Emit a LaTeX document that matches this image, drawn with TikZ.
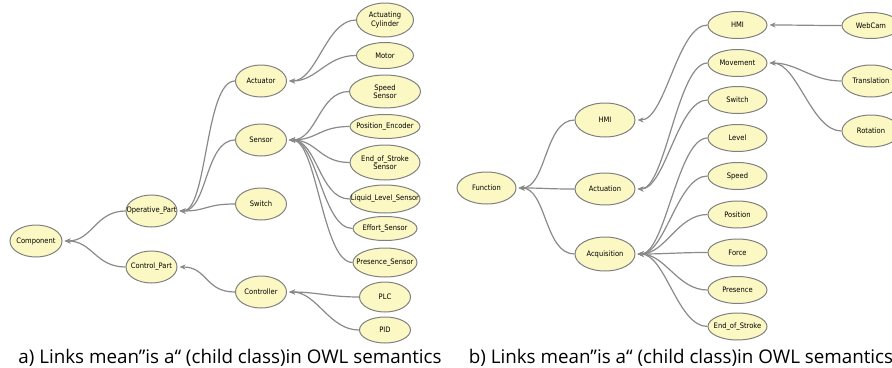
\documentclass[tikz,border=0pt]{standalone}
\usepackage{fontspec}
\usetikzlibrary{shapes.geometric,arrows.meta}
\newfontfamily\nodefont{DejaVu Sans Condensed}
\newfontfamily\capfont{Open Sans}
\definecolor{clsfill}{RGB}{251,248,196}
\definecolor{clsline}{RGB}{128,128,128}
\definecolor{linkgray}{RGB}{138,138,138}

\begin{document}
\begin{tikzpicture}[x=1pt,y=-1pt,
  cls/.style={ellipse, draw=clsline, fill=clsfill, line width=1pt,
    inner xsep=-10pt, inner ysep=0pt,
    minimum width=51pt, minimum height=32pt, align=center,
    font=\nodefont\fontsize{7.5}{8.5}\selectfont},
  link/.style={linkgray, line width=1.2pt, {Stealth[length=6pt,width=5pt]}-,
    shorten <=2pt, out=0, in=180, distance=30pt},
  caption/.style={anchor=base, font=\capfont\fontsize{18.8}{22}\selectfont}]
  \useasboundingbox (0,0) rectangle (892,367);

  % a) component tree
  \node[cls, minimum width=52pt] (comp) at (36,241) {Component};
  \node[cls] (oper) at (151.5,211) {Operative\_Part};
  \node[cls] (ctrl) at (151.5,267) {Control\_Part};
  \node[cls] (actr) at (261,81) {Actuator};
  \node[cls] (sens) at (261,140) {Sensor};
  \node[cls] (swl) at (261,204) {Switch};
  \node[cls] (cont) at (261,292) {Controller};
  \node[cls, minimum width=57pt, minimum height=34pt] (acyl) at (385,20) {Actuating\\Cylinder};
  \node[cls, minimum width=57pt, minimum height=26pt] (motor) at (385,55.5) {Motor};
  \node[cls, minimum width=71pt, minimum height=33pt] (spds) at (385,91.5) {Speed\\Sensor};
  \node[cls, minimum width=70pt, minimum height=24pt] (posenc) at (385,126.5) {Position\_Encoder};
  \node[cls, minimum width=70pt, minimum height=35pt] (eos) at (385,162.5) {End\_of\_Stroke\\Sensor};
  \node[cls, minimum width=70pt, minimum height=28pt] (liq) at (385,199) {Liquid\_Level\_Sensor};
  \node[cls, minimum width=64pt, minimum height=24pt] (eff) at (385,228.5) {Effort\_Sensor};
  \node[cls, minimum width=64pt, minimum height=29pt] (pres) at (385,262.5) {Presence\_Sensor};
  \node[cls, minimum height=30pt] (plc) at (385,297) {PLC};
  \node[cls, minimum height=26pt] (pid) at (385,330) {PID};

  \draw[link] (comp) to (oper);
  \draw[link] (comp) to (ctrl);
  \draw[link] (oper) to (actr);
  \draw[link] (oper) to (sens);
  \draw[link] (oper) to (swl);
  \draw[link] (ctrl) to (cont);
  \draw[link] (actr) to (acyl);
  \draw[link] (actr) to (motor);
  \draw[link] (sens) to (spds);
  \draw[link] (sens) to (posenc);
  \draw[link] (sens) to (eos);
  \draw[link] (sens) to (liq);
  \draw[link] (sens) to (eff);
  \draw[link] (sens) to (pres);
  \draw[link] (cont) to (plc);
  \draw[link] (cont) to (pid);

  % b) function tree
  \node[cls, minimum width=59pt] (func) at (486.5,188) {Function};
  \node[cls, minimum width=60pt, minimum height=34pt] (hmi) at (605,120) {HMI};
  \node[cls, minimum width=60pt] (actn) at (605,189) {Actuation};
  \node[cls, minimum width=60pt, minimum height=34pt] (acq) at (605,254) {Acquisition};
  \node[cls, minimum width=59pt, minimum height=27pt] (hmib) at (737.5,25) {HMI};
  \node[cls, minimum width=59pt, minimum height=27pt] (move) at (737.5,63) {Movement};
  \node[cls, minimum width=59pt, minimum height=27pt] (swr) at (737.5,100) {Switch};
  \node[cls, minimum width=59pt, minimum height=27pt] (lvl) at (737.5,138) {Level};
  \node[cls, minimum width=59pt, minimum height=27pt] (spd) at (737.5,176) {Speed};
  \node[cls, minimum width=59pt, minimum height=27pt] (pos) at (737.5,214.5) {Position};
  \node[cls, minimum width=59pt, minimum height=27pt] (force) at (737.5,252.5) {Force};
  \node[cls, minimum width=59pt, minimum height=27pt] (presr) at (737.5,290) {Presence};
  \node[cls, minimum width=59pt, minimum height=27pt] (eosr) at (737.5,326.5) {End\_of\_Stroke};
  \node[cls, minimum width=58pt, minimum height=26pt] (webcam) at (871,25.5) {WebCam};
  \node[cls, minimum width=58pt, minimum height=32pt] (transl) at (871,81) {Translation};
  \node[cls, minimum width=58pt, minimum height=32pt] (rot) at (871,131) {Rotation};

  \draw[link] (func) to (hmi);
  \draw[link] (func) to (actn);
  \draw[link] (func) to (acq);
  \draw[link] (hmi) to (hmib);
  \draw[link] (actn) to (move);
  \draw[link] (actn) to (swr);
  \draw[link] (acq) to (lvl);
  \draw[link] (acq) to (spd);
  \draw[link] (acq) to (pos);
  \draw[link] (acq) to (force);
  \draw[link] (acq) to (presr);
  \draw[link] (acq) to (eosr);
  \draw[link] (hmib) to (webcam);
  \draw[link] (move) to (transl);
  \draw[link] (move) to (rot);

  \node[caption] (capa) at (230,363.5) {a) Links mean”is a“ (child class)in OWL semantics};
  \node[caption] (capb) at (681,363.5) {b) Links mean”is a“ (child class)in OWL semantics};
\end{tikzpicture}
\end{document}
